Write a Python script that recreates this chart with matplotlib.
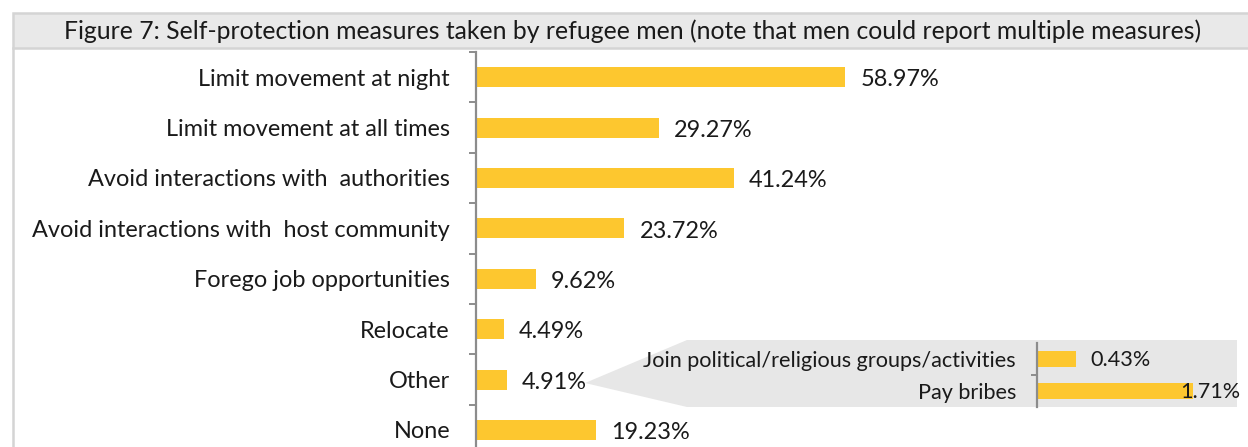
import matplotlib
matplotlib.use("Agg")
import matplotlib.pyplot as plt
from matplotlib.patches import Polygon, Rectangle
from matplotlib.ticker import FixedLocator, NullFormatter

W, H, DPI = 1248, 447, 100

title = ("Figure 7: Self-protection measures taken by refugee men "
         "(note that men could report multiple measures)")

categories = [
    "Limit movement at night",
    "Limit movement at all times",
    "Avoid interactions with  authorities",
    "Avoid interactions with  host community",
    "Forego job opportunities",
    "Relocate",
    "Other",
    "None",
]
values = [58.97, 29.27, 41.24, 23.72, 9.62, 4.49, 4.91, 19.23]

other_categories = ["Join political/religious groups/activities", "Pay bribes"]
other_values = [0.43, 1.71]

BAR = "#FDC72F"
TEXT = "#1a1a1a"
AXIS = "#8c8c8c"
PANEL = "#e7e7e7"
FONT = "Lato"
PT = 72 / DPI  # points per pixel

plt.rcParams["font.family"] = [FONT, "DejaVu Sans"]

fig = plt.figure(figsize=(W / DPI, H / DPI), dpi=DPI)


def fx(px):
    return px / W


def fy(py):
    return 1 - py / H


# title strip and left frame line
fig.patches.append(Rectangle((fx(13), fy(48)), fx(1260) - fx(13), fy(13) - fy(48),
                             transform=fig.transFigure, facecolor="#e9e9e9",
                             edgecolor="#d4d4d4", linewidth=1.8, zorder=-2))
fig.lines.append(plt.Line2D([fx(13), fx(13)], [fy(48), fy(450)],
                            transform=fig.transFigure, color="#d4d4d4", lw=1.8, zorder=-2))
fig.text(fx(633), fy(31), title, ha="center", va="center", fontsize=17.8, color=TEXT)

# callout panel for the breakdown of "Other"
fig.patches.append(Polygon([(fx(585), fy(383)), (fx(687), fy(340)), (fx(1237), fy(340)),
                            (fx(1237), fy(407)), (fx(687), fy(407))],
                           closed=True, transform=fig.transFigure,
                           facecolor=PANEL, edgecolor="none", zorder=-2))

# main chart
PX_PER_PCT = 6.26
left, right = 476, 1237
top = 52
band = 50.4
bottom = top + band * len(categories)
ax = fig.add_axes([fx(left), fy(bottom), fx(right - left), (bottom - top) / H])
ax.patch.set_alpha(0)
ypos = list(range(len(categories)))
ax.barh(ypos, values, height=0.4, color=BAR, zorder=2)
ax.set_xlim(0, (right - left) / PX_PER_PCT)
ax.set_ylim(len(categories) - 0.5, -0.5)
for s in ("top", "right", "bottom"):
    ax.spines[s].set_visible(False)
ax.spines["left"].set_color(AXIS)
ax.spines["left"].set_linewidth(1.6)
ax.set_xticks([])
ax.set_yticks(ypos)
ax.set_yticklabels(categories, fontsize=16.9, color=TEXT)
ax.tick_params(axis="y", which="major", length=0, pad=26 * PT)
ax.yaxis.set_minor_locator(FixedLocator([i - 0.5 for i in range(len(categories) + 1)]))
ax.yaxis.set_minor_formatter(NullFormatter())
ax.tick_params(axis="y", which="minor", length=7 * PT, width=1.4, color=AXIS, direction="out")
for y, v in zip(ypos, values):
    ax.annotate(f"{v:.2f}%", (v, y), xytext=(15 * PT, -2), textcoords="offset points",
                ha="left", va="center", fontsize=16.9, color=TEXT)

# breakdown of "Other"
PX_PER_PCT_IN = 91.5
il, ir, it, ib = 1037, 1237, 343, 407
ax2 = fig.add_axes([fx(il), fy(ib), fx(ir - il), (ib - it) / H])
ax2.patch.set_alpha(0)
ipos = list(range(len(other_categories)))
ax2.barh(ipos, other_values, height=0.47, color=BAR, zorder=2)
ax2.set_xlim(0, (ir - il) / PX_PER_PCT_IN)
ax2.set_ylim(len(other_categories) - 0.5, -0.5)
for s in ("top", "right", "bottom"):
    ax2.spines[s].set_visible(False)
ax2.spines["left"].set_color(AXIS)
ax2.spines["left"].set_linewidth(1.6)
ax2.set_xticks([])
ax2.set_yticks(ipos)
ax2.set_yticklabels(other_categories, fontsize=15.6, color=TEXT)
ax2.tick_params(axis="y", which="major", length=0, pad=21 * PT)
ax2.yaxis.set_minor_locator(FixedLocator([0.5]))
ax2.yaxis.set_minor_formatter(NullFormatter())
ax2.tick_params(axis="y", which="minor", length=6 * PT, width=1.4, color=AXIS, direction="out")
offsets = [14 * PT, -13 * PT]
for y, v, dx in zip(ipos, other_values, offsets):
    ax2.annotate(f"{v:.2f}%", (v, y), xytext=(dx, -1), textcoords="offset points",
                 ha="left", va="center", fontsize=15.6, color=TEXT, zorder=3,
                 annotation_clip=False)

fig.savefig("out.png", dpi=DPI)
